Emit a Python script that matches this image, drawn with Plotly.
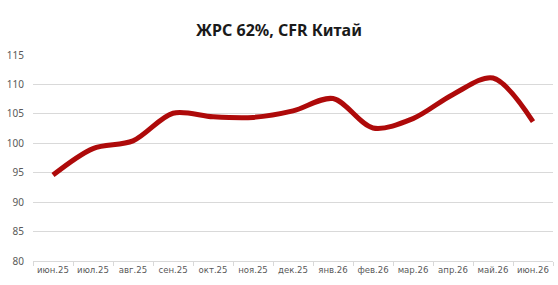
import plotly.graph_objects as go

months = ["июн.25", "июл.25", "авг.25", "сен.25", "окт.25", "ноя.25", "дек.25",
          "янв.26", "фев.26", "мар.26", "апр.26", "май.26", "июн.26"]
values = [94.6, 99.1, 100.4, 105.1, 104.5, 104.4, 105.5, 107.6, 102.6, 104.2, 108.3, 111.1, 103.7]
y_ticks = [80, 85, 90, 95, 100, 105, 110, 115]

fig = go.Figure()
fig.add_trace(go.Scatter(
    x=months, y=values, mode="lines",
    line=dict(color="#AE0A0A", width=5, shape="spline", smoothing=0.9),
    hoverinfo="skip",
))

fig.update_layout(
    width=558, height=285,
    margin=dict(l=33, r=5, t=55, b=24),
    paper_bgcolor="white", plot_bgcolor="white",
    showlegend=False,
    title=dict(text="<b>ЖРС 62%, CFR Китай</b>", x=0.5, xanchor="center",
               y=1 - 30/285, yanchor="middle",
               font=dict(family="Noto Sans", size=16, color="#1a1a1a")),
    font=dict(family="Noto Sans", size=10, color="#595959"),
)
fig.update_xaxes(
    type="category", showgrid=False, automargin=False,
    showline=True, linecolor="#D9D9D9", linewidth=1,
    ticks="outside", tickson="boundaries", ticklen=4, tickcolor="#D9D9D9",
    tickangle=0,
    tickfont=dict(family="DejaVu Sans Condensed, Noto Sans", size=9.5, color="#595959"),
    range=[-0.5, len(months) - 0.5],
)
fig.update_yaxes(
    range=[80, 115], tickvals=y_ticks, automargin=False,
    showgrid=True, gridcolor="#D9D9D9", gridwidth=1,
    zeroline=False, showline=False,
    ticks="", ticklabelstandoff=8,
    tickfont=dict(size=10, color="#595959"),
)

fig.write_html("out.html")
